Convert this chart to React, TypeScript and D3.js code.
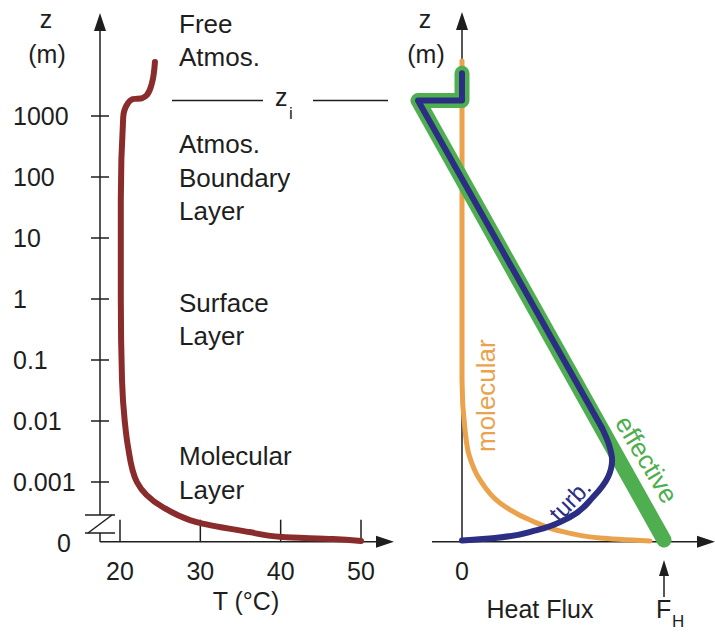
import React from 'react';
import * as d3 from 'd3';

// height ticks (m) on the log axis, plus the "0" at the broken bottom
const zTicks = [1000, 100, 10, 1, 0.1, 0.01, 0.001];
const zTickLabels = ['1000', '100', '10', '1', '0.1', '0.01', '0.001'];
const zGround = 1.05e-4; // where "0" sits below the axis break
const zi = 1800;

const tTicks = [20, 30, 40, 50];

// temperature profile [z (m), T (°C)]
const tempProfile: [number, number][] = [
  [1.08e-4, 50], [1.16e-4, 46.5], [1.25e-4, 40.2], [1.51e-4, 36.1],
  [2.13e-4, 29.9], [2.38e-4, 28.7], [3.89e-4, 25.3], [0.001, 22.1],
  [0.00375, 21.0], [0.0096, 20.6], [0.047, 20.25], [1, 20.1],
  [42, 20.1], [960, 20.4], [1633, 21.0], [1900, 21.6],
  [1950, 22.7], [2210, 23.35], [3475, 23.98], [7670, 24.35],
];

// heat flux profiles [z (m), flux / F_H]
const effectiveFlux: [number, number][] = [
  [1.12e-4, 1.0], [zi, -0.218], [zi, 0], [5000, 0],
];
const turbUpper: [number, number][] = [
  [5000, 0], [zi, 0], [zi, -0.218], [0.00767, 0.693],
];
const turbLower: [number, number][] = [
  [0.00767, 0.693], [0.00405, 0.728], [0.0023, 0.743], [0.00121, 0.723],
  [5.67e-4, 0.649], [2.67e-4, 0.535], [1.63e-4, 0.371], [1.21e-4, 0.163],
  [1.1e-4, 0],
];
const molecularFlux: [number, number][] = [
  [8000, 0], [0.047, 0], [0.0071, 0.015], [0.00277, 0.035],
  [0.00108, 0.089], [4.53e-4, 0.188], [2.38e-4, 0.337], [1.51e-4, 0.51],
  [1.21e-4, 0.683], [1.08e-4, 0.931],
];

const FONT = '"Liberation Sans", Arial, Helvetica, sans-serif';
const INK = '#1e1e1e';

const App = () => {
  const z = d3.scaleLog().domain([0.001, 1000]).range([482, 116]);
  const t = d3.scaleLinear().domain([20, 50]).range([120, 361]);
  const f = d3.scaleLinear().domain([0, 1]).range([462, 664]);

  const y0 = z(zGround);
  const xAxisL = 100;
  const xAxisR = f(0);

  const tempLine = d3.line<[number, number]>()
    .x(d => t(d[1])).y(d => z(d[0]))
    .curve(d3.curveMonotoneY);
  const fluxLinear = d3.line<[number, number]>()
    .x(d => f(d[1])).y(d => z(d[0]));
  const fluxSmooth = d3.line<[number, number]>()
    .x(d => f(d[1])).y(d => z(d[0]))
    .curve(d3.curveMonotoneY);

  const arrowUp = (x: number, tip: number) =>
    `M${x},${tip}L${x - 6},${tip + 18}L${x + 6},${tip + 18}Z`;
  const arrowRight = (tip: number, y: number) =>
    `M${tip},${y}L${tip - 18},${y - 6}L${tip - 18},${y + 6}Z`;

  const bodyText = { fontFamily: FONT, fontSize: 26, fill: INK };
  const tickText = { fontFamily: FONT, fontSize: 25, fill: INK };

  const breakTop = 515;
  const breakBot = 533;

  return (
    <svg width={715} height={632} style={{ position: 'absolute', left: 0, top: 0, background: '#fff' }}>
      {/* ---------- left panel: temperature ---------- */}
      <g stroke={INK} strokeWidth={1.5} fill="none">
        <line x1={xAxisL} x2={xAxisL} y1={31} y2={breakTop} />
        <line x1={xAxisL} x2={xAxisL} y1={breakBot} y2={y0} />
        <line x1={xAxisL} x2={378} y1={y0} y2={y0} />
        <line x1={85} x2={115} y1={breakTop} y2={breakTop} />
        <line x1={112} x2={88} y1={breakTop} y2={breakBot} />
        <line x1={85} x2={115} y1={breakBot} y2={breakBot} />
        {zTicks.map(v => (
          <line key={v} x1={91} x2={109} y1={z(v)} y2={z(v)} />
        ))}
        {tTicks.map(v => (
          <line key={v} x1={t(v)} x2={t(v)} y1={y0 - 22} y2={y0} />
        ))}
      </g>
      <path d={arrowUp(xAxisL, 13)} fill={INK} />
      <path d={arrowRight(394, y0)} fill={INK} />

      {zTicks.map((v, i) => (
        <text key={v} x={13} y={z(v) + 9} {...tickText}>{zTickLabels[i]}</text>
      ))}
      <text x={57} y={y0 + 10} {...tickText}>0</text>
      {tTicks.map(v => (
        <text key={v} x={t(v)} y={580} textAnchor="middle" {...tickText}>{v}</text>
      ))}
      <text x={246} y={610} textAnchor="middle" {...tickText}>T (°C)</text>

      <text x={46} y={28} textAnchor="middle" {...tickText}>z</text>
      <text x={47} y={63} textAnchor="middle" {...tickText}>(m)</text>

      <g {...bodyText}>
        <text x={179} y={33}>Free</text>
        <text x={179} y={66}>Atmos.</text>
        <text x={179} y={153}>Atmos.</text>
        <text x={179} y={187}>Boundary</text>
        <text x={179} y={220}>Layer</text>
        <text x={179} y={312}>Surface</text>
        <text x={179} y={345}>Layer</text>
        <text x={179} y={465}>Molecular</text>
        <text x={179} y={499}>Layer</text>
      </g>

      {/* z_i marker */}
      <g stroke={INK} strokeWidth={1.5}>
        <line x1={172} x2={263} y1={z(zi)} y2={z(zi)} />
        <line x1={313} x2={388} y1={z(zi)} y2={z(zi)} />
      </g>
      <text x={275} y={106} {...tickText}>z</text>
      <text x={289} y={119} fontFamily={FONT} fontSize={17} fill={INK}>i</text>

      <path d={tempLine(tempProfile) ?? ''} fill="none" stroke="#8a2b2c"
        strokeWidth={6} strokeLinecap="round" strokeLinejoin="round" />

      {/* ---------- right panel: heat flux ---------- */}
      <g stroke={INK} strokeWidth={1.5} fill="none">
        <line x1={xAxisR} x2={xAxisR} y1={30} y2={y0} />
        <line x1={432} x2={698} y1={y0} y2={y0} />
        <line x1={f(1)} x2={f(1)} y1={574} y2={597} />
      </g>
      <path d={arrowUp(xAxisR, 12)} fill={INK} />
      <path d={arrowRight(715, y0)} fill={INK} />
      <path d={`M${f(1)},560L${f(1) - 5},576L${f(1) + 5},576Z`} fill={INK} />

      <text x={425} y={28} textAnchor="middle" {...tickText}>z</text>
      <text x={426} y={63} textAnchor="middle" {...tickText}>(m)</text>
      <text x={f(0)} y={580} textAnchor="middle" {...tickText}>0</text>
      <text x={540} y={618} textAnchor="middle" {...tickText}>Heat Flux</text>
      <text x={656} y={618} {...tickText}>F</text>
      <text x={672} y={627} fontFamily={FONT} fontSize={17} fill={INK}>H</text>

      <path d={fluxSmooth(molecularFlux) ?? ''} fill="none" stroke="#eba24d"
        strokeWidth={5} strokeLinecap="round" strokeLinejoin="round" />
      <path d={fluxLinear(effectiveFlux) ?? ''} fill="none" stroke="#4fae50"
        strokeWidth={15} strokeLinecap="round" strokeLinejoin="round" />
      <path d={fluxLinear(turbUpper) ?? ''} fill="none" stroke="#2b2e83"
        strokeWidth={6} strokeLinecap="round" strokeLinejoin="round" />
      <path d={fluxSmooth(turbLower) ?? ''} fill="none" stroke="#2b2e83"
        strokeWidth={6} strokeLinecap="round" strokeLinejoin="round" />

      <text transform="translate(495,452) rotate(-90)" fontFamily={FONT} fontSize={26} fill="#eba24d">molecular</text>
      <text transform="translate(576,506) rotate(-46)" textAnchor="middle" fontFamily={FONT} fontSize={24} fill="#2b2e83">turb.</text>
      <text transform="translate(639,464) rotate(59)" textAnchor="middle" fontFamily={FONT} fontSize={26} fill="#4fae50">effective</text>
    </svg>
  );
};

export default App;
